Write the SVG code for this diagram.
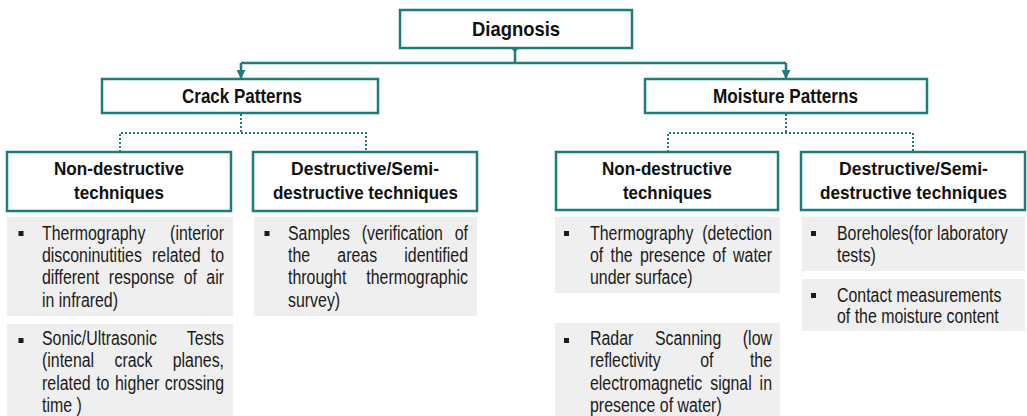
<svg xmlns="http://www.w3.org/2000/svg" width="1027" height="416" viewBox="0 0 1027 416">
  <style>
    .box { fill: #ffffff; stroke: #1f7b7c; stroke-width: 2.5; }
    .panel { fill: #efefef; stroke: none; }
    .head { font-family: "Liberation Sans", Arial, sans-serif; font-weight: bold; fill: #111111; text-anchor: middle; }
    /* narrow body face: Arial-width sans compressed horizontally; x values are in the scaled space */
    .body { font-family: "Liberation Sans", Arial, sans-serif; font-size: 19.4px; fill: #1a1a1a; }
    .end { text-anchor: end; }
    .solid { fill: none; stroke: #1f7b7c; stroke-width: 2.5; }
    .dotted { fill: none; stroke: #1f7b7c; stroke-width: 2; stroke-dasharray: 2 2; }
    .bullet { fill: #1a1a1a; }
  </style>
  <defs>
    <marker id="arrow" viewBox="0 0 10 10" refX="9" refY="5" markerWidth="3.6" markerHeight="3.6" orient="auto" markerUnits="strokeWidth">
      <path d="M0,0 L10,5 L0,10 z" fill="#1f7b7c"/>
    </marker>
  </defs>

  <!-- connectors -->
  <g id="connectors">
    <circle cx="515" cy="48" r="3" fill="#1f7b7c"/>
    <path class="solid" d="M515,48 V63"/>
    <path class="solid" d="M241,63 H786"/>
    <path class="solid" d="M241,63 V78" marker-end="url(#arrow)"/>
    <path class="solid" d="M786,63 V78" marker-end="url(#arrow)"/>
    <path class="dotted" d="M241,114 V133 M120,152 V133 H366 V152"/>
    <path class="dotted" d="M786,114 V133 M668,152 V133 H913 V152"/>
  </g>

  <!-- root -->
  <g id="diagnosis">
    <rect class="box" x="400" y="10" width="232" height="38"/>
    <text class="head" x="516" y="36" font-size="21" textLength="88" lengthAdjust="spacingAndGlyphs">Diagnosis</text>
  </g>

  <!-- second level -->
  <g id="crack-patterns">
    <rect class="box" x="102" y="79" width="276" height="34"/>
    <text class="head" x="242" y="103" font-size="20" textLength="120" lengthAdjust="spacingAndGlyphs">Crack Patterns</text>
  </g>
  <g id="moisture-patterns">
    <rect class="box" x="645" y="79" width="282" height="34"/>
    <text class="head" x="785.5" y="103" font-size="20" textLength="145" lengthAdjust="spacingAndGlyphs">Moisture Patterns</text>
  </g>

  <!-- technique headers -->
  <g id="crack-nondestructive">
    <rect class="box" x="7" y="152" width="224" height="59"/>
    <text class="head" x="119" y="175" font-size="19" textLength="130" lengthAdjust="spacingAndGlyphs">Non-destructive</text>
    <text class="head" x="119" y="199" font-size="19" textLength="90" lengthAdjust="spacingAndGlyphs">techniques</text>
  </g>
  <g id="crack-destructive">
    <rect class="box" x="253" y="152" width="224" height="59"/>
    <text class="head" x="365" y="175" font-size="19" textLength="148" lengthAdjust="spacingAndGlyphs">Destructive/Semi-</text>
    <text class="head" x="365.5" y="199" font-size="19" textLength="185" lengthAdjust="spacingAndGlyphs">destructive techniques</text>
  </g>
  <g id="moisture-nondestructive">
    <rect class="box" x="556" y="152" width="222" height="58"/>
    <text class="head" x="667" y="175" font-size="19" textLength="130" lengthAdjust="spacingAndGlyphs">Non-destructive</text>
    <text class="head" x="667.5" y="199" font-size="19" textLength="89" lengthAdjust="spacingAndGlyphs">techniques</text>
  </g>
  <g id="moisture-destructive">
    <rect class="box" x="801" y="152" width="224" height="58"/>
    <text class="head" x="913.5" y="175" font-size="19" textLength="149" lengthAdjust="spacingAndGlyphs">Destructive/Semi-</text>
    <text class="head" x="913.5" y="199" font-size="19" textLength="187" lengthAdjust="spacingAndGlyphs">destructive techniques</text>
  </g>

  <!-- crack pattern lists: justified lines place each word -->
  <g id="crack-thermography">
    <rect class="panel" x="7" y="217" width="226" height="99"/>
    <rect class="bullet" x="18.5" y="231" width="5" height="5"/>
    <g class="body" transform="scale(0.82 1)">
      <text y="240"><tspan x="51.22">Thermography</tspan><tspan class="end" x="273.17">(interior</tspan></text>
      <text y="262"><tspan x="51.22">disconinutities</tspan><tspan x="185.37">related</tspan><tspan class="end" x="273.17">to</tspan></text>
      <text y="284"><tspan x="51.22">different</tspan><tspan x="132.76">response</tspan><tspan x="224">of</tspan><tspan class="end" x="273.17">air</tspan></text>
      <text y="307" x="51.22">in infrared)</text>
    </g>
  </g>
  <g id="crack-sonic">
    <rect class="panel" x="7" y="324" width="226" height="92"/>
    <rect class="bullet" x="18.5" y="338" width="5" height="5"/>
    <g class="body" transform="scale(0.82 1)">
      <text y="345"><tspan x="51.22">Sonic/Ultrasonic</tspan><tspan class="end" x="273.17">Tests</tspan></text>
      <text y="367"><tspan x="51.22">(intenal</tspan><tspan x="139.55">crack</tspan><tspan class="end" x="273.17">planes,</tspan></text>
      <text y="390"><tspan x="51.22">related</tspan><tspan x="117.3">to</tspan><tspan x="140.25">higher</tspan><tspan class="end" x="273.17">crossing</tspan></text>
      <text y="412" x="51.22">time )</text>
    </g>
  </g>
  <g id="crack-samples">
    <rect class="panel" x="254" y="217" width="223" height="99"/>
    <rect class="bullet" x="264.5" y="231" width="5" height="5"/>
    <g class="body" transform="scale(0.82 1)">
      <text y="240"><tspan x="351.22">Samples</tspan><tspan x="441.04">(verification</tspan><tspan class="end" x="570.73">of</tspan></text>
      <text y="262"><tspan x="351.22">the</tspan><tspan x="411.38">areas</tspan><tspan class="end" x="570.73">identified</tspan></text>
      <text y="284"><tspan x="351.22">throught</tspan><tspan class="end" x="570.73">thermographic</tspan></text>
      <text y="307" x="351.22">survey)</text>
    </g>
  </g>

  <!-- moisture pattern lists -->
  <g id="moisture-thermography">
    <rect class="panel" x="555" y="217" width="225" height="76"/>
    <rect class="bullet" x="564" y="231" width="5" height="5"/>
    <g class="body" transform="scale(0.82 1)">
      <text y="240"><tspan x="719.51">Thermography</tspan><tspan class="end" x="941.46">(detection</tspan></text>
      <text y="262"><tspan x="719.51">of</tspan><tspan x="744.54">the</tspan><tspan x="780.36">presence</tspan><tspan x="869">of</tspan><tspan class="end" x="941.46">water</tspan></text>
      <text y="284" x="719.51">under surface)</text>
    </g>
  </g>
  <g id="moisture-radar">
    <rect class="panel" x="555" y="323" width="225" height="93"/>
    <rect class="bullet" x="564" y="338" width="5" height="5"/>
    <g class="body" transform="scale(0.82 1)">
      <text y="345"><tspan x="719.51">Radar</tspan><tspan x="798.68">Scanning</tspan><tspan class="end" x="941.46">(low</tspan></text>
      <text y="367"><tspan x="719.51">reflectivity</tspan><tspan x="853.97">of</tspan><tspan class="end" x="941.46">the</tspan></text>
      <text y="390"><tspan x="719.51">electromagnetic</tspan><tspan x="866.07">signal</tspan><tspan class="end" x="941.46">in</tspan></text>
      <text y="412" x="719.51">presence of water)</text>
    </g>
  </g>
  <g id="moisture-boreholes">
    <rect class="panel" x="802" y="217" width="223" height="54"/>
    <rect class="bullet" x="811" y="231" width="5" height="5"/>
    <g class="body" transform="scale(0.82 1)">
      <text y="240" x="1020.73">Boreholes(for laboratory</text>
      <text y="262" x="1020.73">tests)</text>
    </g>
  </g>
  <g id="moisture-contact">
    <rect class="panel" x="802" y="279" width="223" height="52"/>
    <rect class="bullet" x="811" y="293" width="5" height="5"/>
    <g class="body" transform="scale(0.82 1)">
      <text y="302" x="1020.73">Contact measurements</text>
      <text y="323" x="1020.73">of the moisture content</text>
    </g>
  </g>
</svg>
